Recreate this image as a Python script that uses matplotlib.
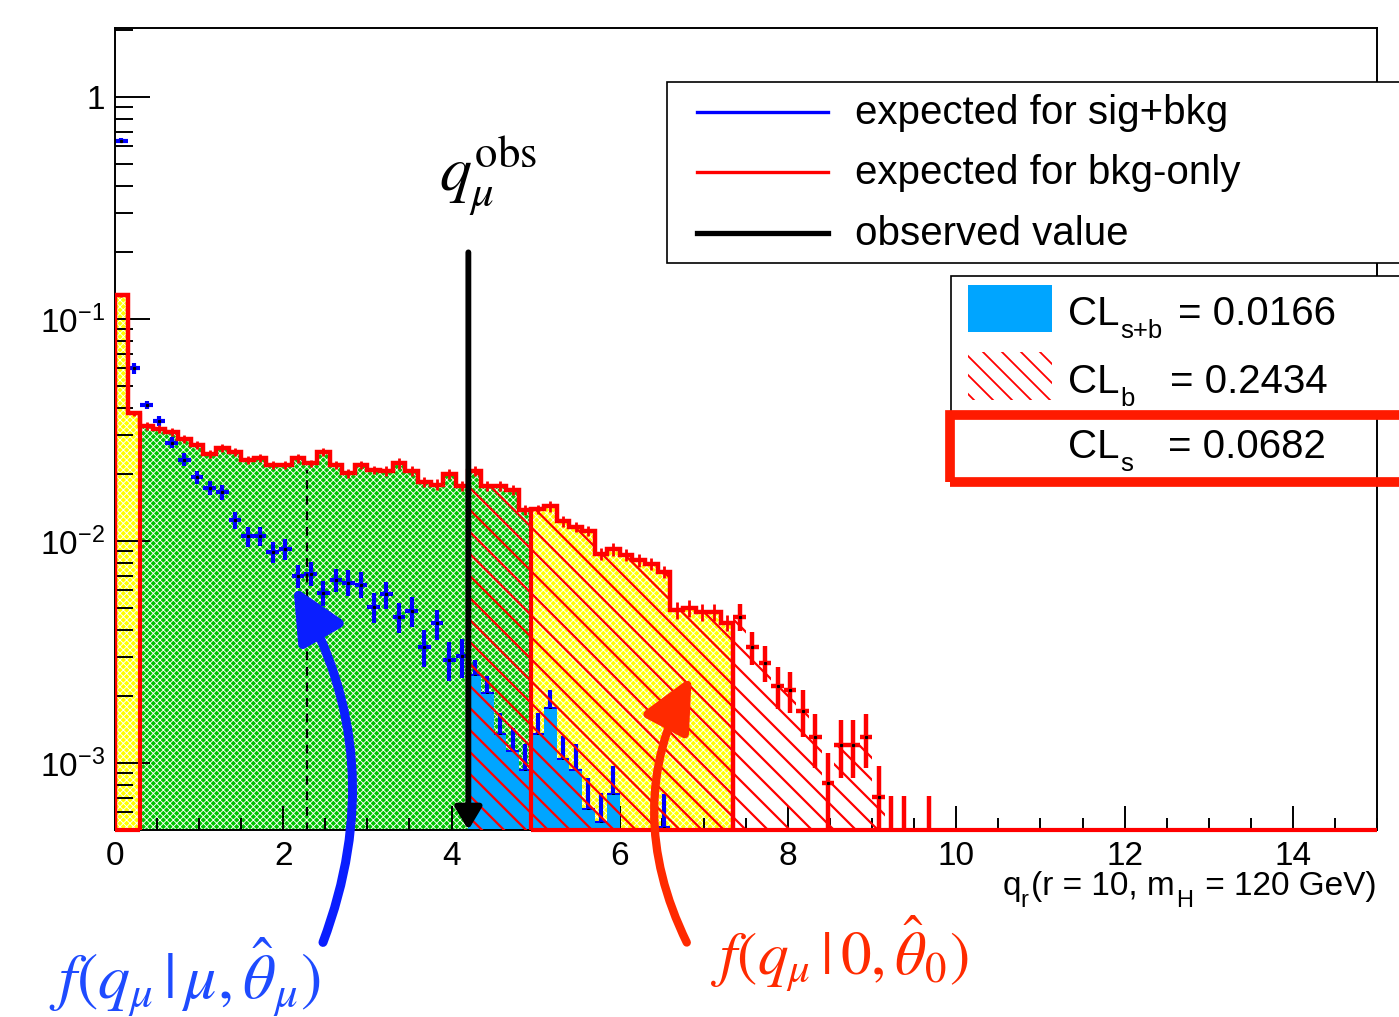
import numpy as np
import matplotlib
matplotlib.use("Agg")
import matplotlib.pyplot as plt
from matplotlib.patches import Rectangle, FancyArrowPatch
from matplotlib.collections import LineCollection
from matplotlib.lines import Line2D
from matplotlib.transforms import IdentityTransform
from matplotlib.ticker import MultipleLocator, LogLocator, NullFormatter

plt.rcParams['font.family'] = ['Liberation Sans', 'DejaVu Sans']
plt.rcParams['mathtext.fontset'] = 'stix'
plt.rcParams['hatch.linewidth'] = 0.65

# ---- data (bins of 0.15 in q, starting at 0) ----
# expected for bkg-only, drawn as a histogram up to q = 7.35
bkg_only = [0.128, 0.0376, 0.0330, 0.0320, 0.0311, 0.0290, 0.0271, 0.0248, 0.0264, 0.0253,
            0.0232, 0.0237, 0.0220, 0.0220, 0.0236, 0.0224, 0.0253, 0.0220, 0.0202, 0.0220,
            0.0210, 0.0207, 0.0224, 0.0207, 0.0185, 0.0180, 0.0201, 0.0177, 0.0208, 0.0177,
            0.0177, 0.0170, 0.0138, 0.0139, 0.0144, 0.0123, 0.0116, 0.0111, 0.0088, 0.0092,
            0.0087, 0.0082, 0.0079, 0.0073, 0.0049, 0.0050, 0.0048, 0.0048, 0.0043]
bkg_only_err = [0.0025, 0.0009, 0.0014, 0.0013, 0.0013, 0.0012, 0.0011, 0.0010, 0.0011, 0.0011,
                0.0010, 0.0010, 0.0009, 0.0009, 0.0010, 0.0009, 0.0011, 0.0009, 0.0009, 0.0009,
                0.0009, 0.0011, 0.0012, 0.0011, 0.0010, 0.0010, 0.0011, 0.0009, 0.0011, 0.0009,
                0.0009, 0.0009, 0.0007, 0.0007, 0.0008, 0.0007, 0.0006, 0.0006, 0.00056, 0.00059,
                0.00056, 0.00052, 0.0005, 0.00047, 0.00042, 0.00043, 0.00041, 0.00041, 0.00037]
# bkg-only tail, drawn as points (q from 7.35)
bkg_tail = [0.00456, 0.00334, 0.00284, 0.00223, 0.00213, 0.00172, 0.00131, 0.00081, 0.00121, 0.00121,
            0.00131, 0.000705, 0.00036, 0.00036, 0.0, 0.00036]
bkg_tail_err = [0.00064, 0.00056, 0.00053, 0.00047, 0.00045, 0.00041, 0.00036, 0.0003, 0.00035, 0.00035,
                0.00036, 0.00027, 0.00035, 0.00035, 0.0, 0.00035]
# expected for sig+bkg (points)
sig_bkg = [0.636, 0.060, 0.041, 0.0347, 0.0278, 0.0233, 0.0194, 0.0174, 0.0166, 0.01244,
           0.01054, 0.0105, 0.00895, 0.0092, 0.00698, 0.00715, 0.00587, 0.00672, 0.00651, 0.00638,
           0.00506, 0.00577, 0.00456, 0.00485, 0.00334, 0.00426, 0.00293, 0.00303, 0.00247, 0.00205,
           0.00134, 0.00112, 0.000924, 0.00134, 0.00175, 0.00103, 0.000924, 0.000614, 0.000537, 0.000717,
           0.0, 0.0, 0.0, 0.00051]
sig_bkg_err = [0.017, 0.0032, 0.0017, 0.0018, 0.0016, 0.0016, 0.00136, 0.00122, 0.00125, 0.00114,
               0.0011, 0.00103, 0.00098, 0.0010, 0.00084, 0.00087, 0.00078, 0.00081, 0.00087, 0.00085,
               0.00076, 0.0008, 0.00071, 0.00073, 0.00062, 0.00066, 0.00058, 0.0006, 0.00046, 0.00042,
               0.00034, 0.00032, 0.00029, 0.00034, 0.00038, 0.0003, 0.00029, 0.00024, 0.0002, 0.00025,
               0.0, 0.0, 0.0, 0.00022]

q_obs = 4.2
q_median = 2.28
band_edges = [0.3, 4.95]          # green band, yellow outside
legend_labels = ['expected for sig+bkg', 'expected for bkg-only', 'observed value']
cl_subs = ['s+b', 'b', 's']
cl_values = ['0.0166', '0.2434', '0.0682']

BW = 0.15
YMIN, YMAX = 5e-4, 2.05
BASE = 1e-7
RED = '#ff0000'
GREEN = '#00c400'
YELLOW = '#ffff00'
SKY = '#00a5ff'

W, H = 1399, 1017
fig = plt.figure(figsize=(W / 100, H / 100), dpi=100)
ax = fig.add_axes([115 / W, 1 - 830 / H, (1377 - 115) / W, (830 - 28) / H])
ax.set_yscale('log')
ax.set_xlim(0, 15)
ax.set_ylim(YMIN, YMAX)


def fp(x, y):
    return x / W, 1 - y / H


def diag_hatch(parent, clip, x0, x1, y0, y1, step, color, lw, z):
    # lines running down to the right on screen, in display pixels
    segs = []
    for c in np.arange(x0 + y0, x1 + y1 + step, step):
        segs.append([(x0, c - x0), (x1, c - x1)])
    lc = LineCollection(segs, colors=color, linewidths=lw, transform=IdentityTransform(), zorder=z)
    lc.set_clip_path(clip)
    if parent is ax:
        ax.add_collection(lc, autolim=False)
    else:
        fig.add_artist(lc)


bkg = np.array(bkg_only)
tail = np.array(bkg_tail)
sig = np.array(sig_bkg)
n_hist = len(bkg)
all_bkg = np.concatenate([bkg, tail])
edges = np.round(np.arange(len(all_bkg) + 1) * BW, 4)
i_obs = int(round(q_obs / BW))
i_b0 = int(round(band_edges[0] / BW))
i_b1 = int(round(band_edges[1] / BW))
i_sig_end = 40
i_hatch_end = 61

# yellow / green bands with a fine white mesh
for lo, hi, col in [(0, i_b0, YELLOW), (i_b0, i_b1, GREEN), (i_b1, n_hist, YELLOW)]:
    ax.stairs(bkg[lo:hi], edges[lo:hi + 1], fill=True, baseline=BASE,
              facecolor=col, edgecolor='white', hatch='xxxxx', linewidth=0, zorder=1)

# sig+bkg points
cen = (edges[:-1] + edges[1:]) / 2
m = sig > 0
ax.errorbar(cen[:len(sig)][m], sig[m], yerr=np.array(sig_bkg_err)[m], xerr=BW / 2,
            fmt='none', ecolor='blue', elinewidth=3, zorder=2)
ax.plot(cen[:len(sig)][m], sig[m], 's', color='k', ms=1.3, zorder=2.1)

# sig+bkg tail beyond observed
ax.stairs(sig[i_obs:i_sig_end], edges[i_obs:i_sig_end + 1], fill=True, baseline=BASE,
          facecolor=SKY, edgecolor='none', linewidth=0, zorder=2.5)

# red hatch under bkg-only beyond observed
clip = ax.stairs(all_bkg[i_obs:i_hatch_end], edges[i_obs:i_hatch_end + 1], fill=True,
                 baseline=YMIN, facecolor='none', edgecolor='none', linewidth=0, zorder=0)
diag_hatch(ax, clip, 440, 940, H - 832, 700, 22, RED, 1.6, 3)

# bkg-only histogram
ax.errorbar(cen[:n_hist], bkg, yerr=bkg_only_err, fmt='none', ecolor=RED, elinewidth=2, zorder=3.5)
ax.stairs(bkg, edges[:n_hist + 1], baseline=BASE, fill=False, color=RED, linewidth=3.2, zorder=4)
ax.vlines([band_edges[0], band_edges[1]], BASE,
          [bkg[i_b0 - 1], bkg[i_b1]], color=RED, linewidth=3, zorder=4)
ax.hlines(YMIN, 0, band_edges[0], color=RED, linewidth=3, zorder=6, clip_on=False)
ax.hlines(YMIN, band_edges[1], 15, color=RED, linewidth=3, zorder=6, clip_on=False)

# bkg-only tail points
mt = tail > 0
tx = cen[n_hist:n_hist + len(tail)][mt]
ax.errorbar(tx, tail[mt], yerr=np.array(bkg_tail_err)[mt], xerr=BW / 2,
            fmt='none', ecolor=RED, elinewidth=3.2, zorder=4)
ax.plot(tx[:12], tail[mt][:12], 's', color='k', ms=1.3, zorder=4.1)

# median and observed value
ax.vlines(q_median, BASE, 0.021, color='k', linestyles=(0, (4, 3)), linewidth=1.6, zorder=4)
ax.annotate('', xy=(q_obs, YMIN), xytext=(q_obs, 0.2),
            arrowprops=dict(arrowstyle='-|>,head_length=0.45,head_width=0.27', mutation_scale=30,
                            lw=4.2, color='k', shrinkA=0, shrinkB=0), zorder=5)

# axes styling
for s in ax.spines.values():
    s.set_linewidth(1.4)
ax.set_yticks([1e-3, 1e-2, 1e-1, 1],
              [r'$\mathregular{10^{-3}}$', r'$\mathregular{10^{-2}}$', r'$\mathregular{10^{-1}}$', '1'])
ax.yaxis.set_minor_locator(LogLocator(base=10, subs=np.arange(2, 10)))
ax.yaxis.set_minor_formatter(NullFormatter())
ax.xaxis.set_major_locator(MultipleLocator(2))
ax.xaxis.set_minor_locator(MultipleLocator(0.5))
ax.tick_params(axis='y', which='major', direction='in', length=25, width=1.4, labelsize=24, pad=7)
ax.tick_params(axis='y', which='minor', direction='in', length=13, width=1.4)
ax.tick_params(axis='x', which='major', direction='in', length=17, width=1.4, labelsize=24, pad=8)
ax.tick_params(axis='x', which='minor', direction='in', length=9, width=1.4)
ax.set_xticks([0, 2, 4, 6, 8, 10, 12, 14])

# x title: q_r(r = 10, m_H = 120 GeV) with low subscripts
xt_parts = [(1003, 0, 24, 'q'), (1020, 12, 17, 'r'), (1031, 0, 24, '(r = 10, m'),
            (1176, 12, 17, 'H'), (1196, 0, 24, ' = 120 GeV)')]
for xx, dy, fs, s in xt_parts:
    fig.text(*fp(xx, 895 + dy), s, ha='left', va='baseline', fontsize=fs)

# q_mu^obs label
fig.text(*fp(488, 190), r'$q_{\mu}^{\mathrm{obs}}$', ha='center', va='baseline', fontsize=46)

# legend 1
fig.add_artist(Rectangle(fp(667, 263), (1405 - 667) / W, (263 - 82) / H, transform=fig.transFigure,
                         facecolor='white', edgecolor='k', linewidth=1.2, zorder=10))
for yy, col, lw, lab in zip([112, 172, 233], ['blue', RED, 'k'], [2.4, 2.4, 3.8], legend_labels):
    fig.add_artist(Line2D([697 / W, 828 / W], [1 - yy / H] * 2, color=col, linewidth=lw, zorder=11))
    fig.text(*fp(855, yy + 12), lab, ha='left', va='baseline', fontsize=29, zorder=11)

# legend 2
fig.add_artist(Rectangle(fp(951, 415), (1405 - 951) / W, (415 - 276) / H, transform=fig.transFigure,
                         facecolor='white', edgecolor='k', linewidth=1.2, zorder=10))
fig.add_artist(Rectangle(fp(968, 332), (1052 - 968) / W, (332 - 285) / H, transform=fig.transFigure,
                         facecolor=SKY, edgecolor='none', zorder=11))
leg_clip = Rectangle((968, H - 400), 1052 - 968, 400 - 352, transform=IdentityTransform(),
                     facecolor='none', edgecolor='none', zorder=11)
fig.add_artist(leg_clip)
diag_hatch(fig, leg_clip, 960, 1060, H - 405, H - 345, 19, RED, 1.3, 11)
fig.add_artist(Rectangle(fp(950, 482), (1410 - 950) / W, (482 - 415) / H, transform=fig.transFigure,
                         facecolor='none', edgecolor='#ff1a00', linewidth=7, zorder=12))
for yb, xeq, sub, val in zip([325, 393, 458], [1178, 1170, 1168], cl_subs, cl_values):
    fig.text(*fp(1068, yb), 'CL', ha='left', va='baseline', fontsize=29, zorder=13)
    fig.text(*fp(1120, yb + 13), sub, ha='left', va='baseline', fontsize=18.5, zorder=13)
    fig.text(*fp(xeq, yb), '= ' + val, ha='left', va='baseline', fontsize=29, zorder=13)

# annotation arrows and pdf labels
BLUE_TXT = '#1e4bff'
RED_TXT = '#ff2a00'
fig.add_artist(FancyArrowPatch(fp(322, 945), fp(292, 584), transform=fig.transFigure,
                               connectionstyle='arc3,rad=0.24',
                               arrowstyle='-|>,head_length=0.8,head_width=0.38', mutation_scale=40,
                               color='#0a1eff', linewidth=6.5, zorder=12))
fig.add_artist(FancyArrowPatch(fp(688, 945), fp(693, 674), transform=fig.transFigure,
                               connectionstyle='arc3,rad=-0.26',
                               arrowstyle='-|>,head_length=0.8,head_width=0.38', mutation_scale=40,
                               color=RED_TXT, linewidth=6, zorder=12))
fig.text(*fp(185, 1000), r'$f(q_{\mu}\,|\,\mu,\hat{\theta}_{\mu})$', ha='center', va='baseline',
         fontsize=46, color=BLUE_TXT)
fig.text(*fp(840, 975), r'$f(q_{\mu}\,|\,0,\hat{\theta}_{0})$', ha='center', va='baseline',
         fontsize=44, color=RED_TXT)

fig.savefig('out.png', dpi=100)
